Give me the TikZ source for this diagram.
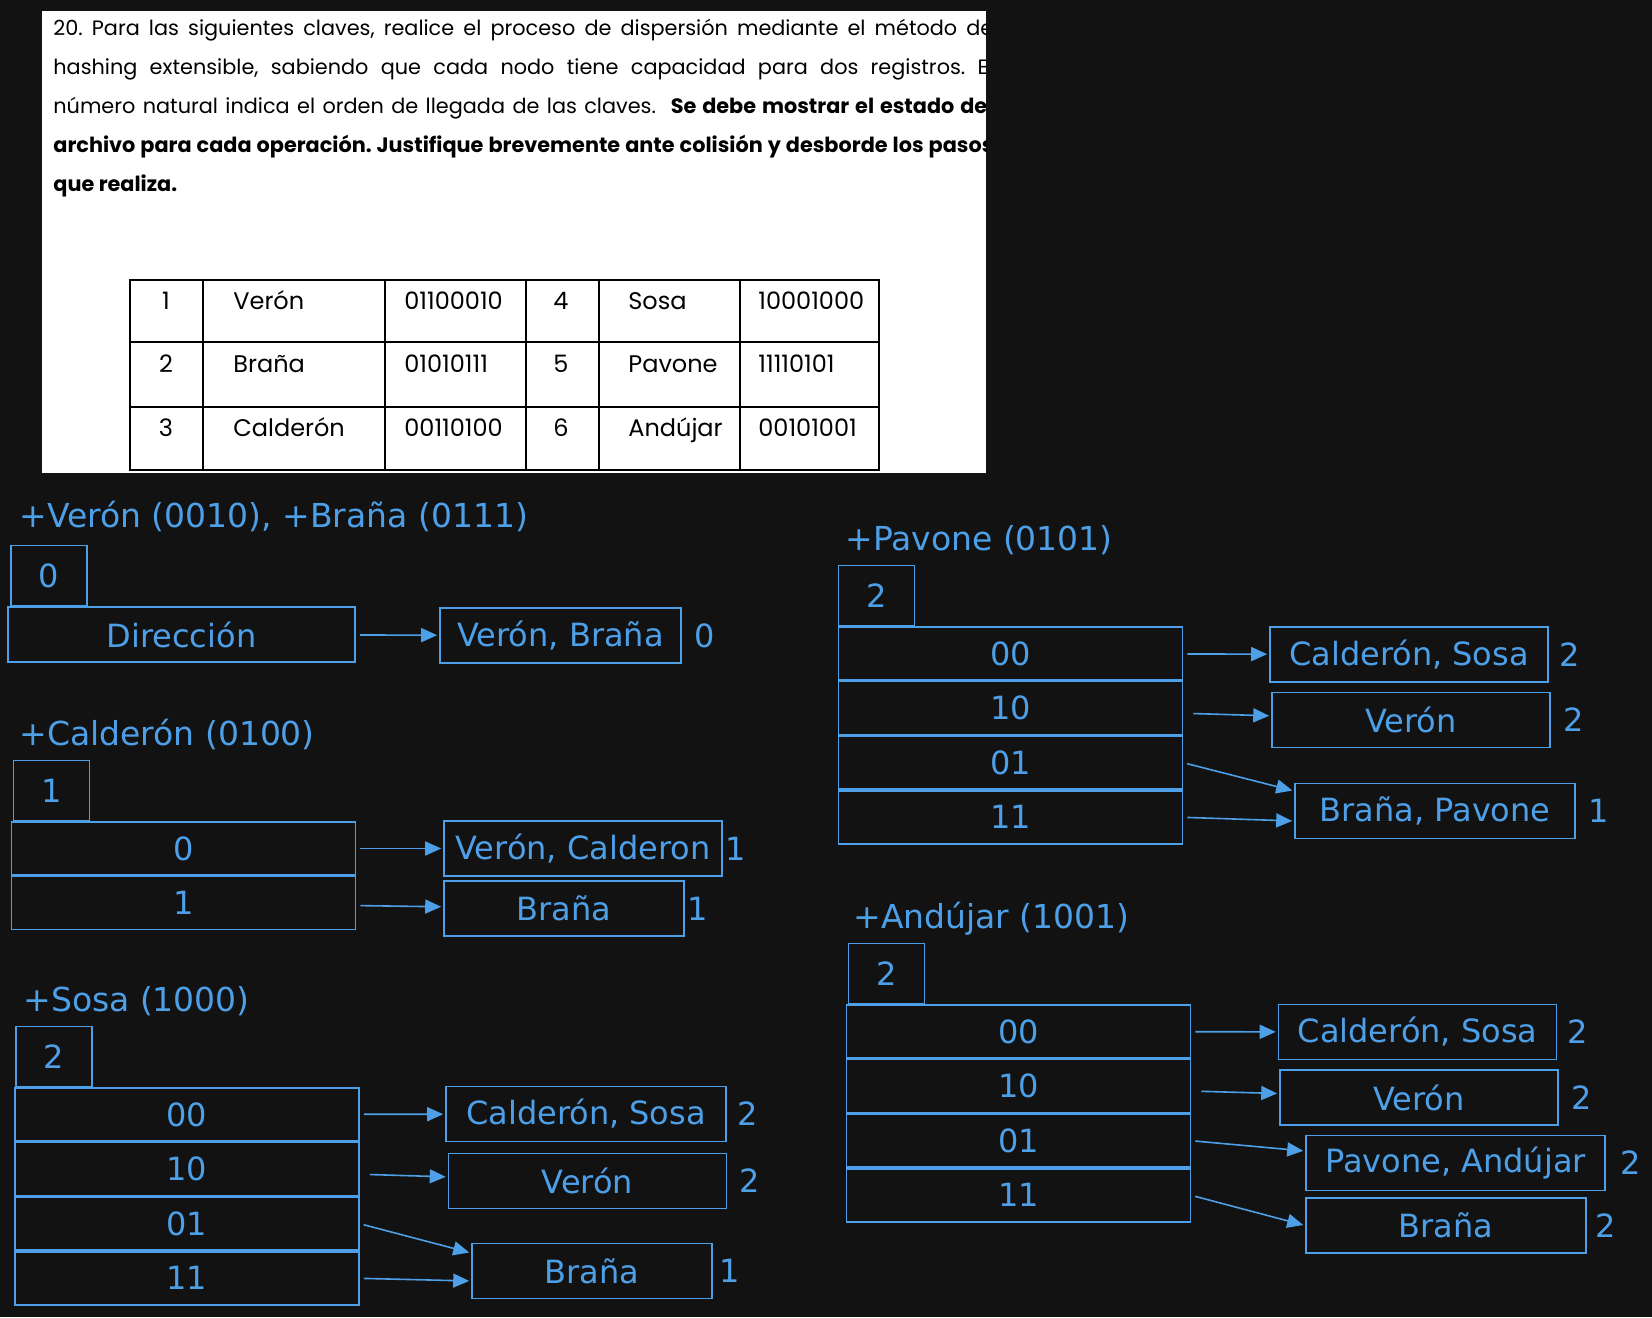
\documentclass[tikz,border=0pt]{standalone}
\usepackage{fontspec}
\setmainfont{Poppins}
\newfontfamily\hand{DejaVu Sans}
\usetikzlibrary{arrows.meta,positioning,calc}
\definecolor{sk}{RGB}{77,160,232}
\definecolor{bg}{RGB}{18,18,18}
\frenchspacing

\begin{document}
\begin{tikzpicture}[
    x=0.5pt, y=-0.5pt,
    cell/.style={draw=sk, line width=0.8pt, inner sep=0pt, text=sk,
      font=\hand\fontsize{16}{19}\selectfont},
    depthbox/.style={cell, minimum width=38pt, minimum height=30pt},
    dirrow/.style={cell, minimum width=172pt, minimum height=26.5pt},
    bucket/.style={cell, minimum width=#1, minimum height=27.5pt},
    bucket/.default=139pt,
    ttl/.style={anchor=west, inner sep=0pt, text=sk,
      font=\hand\fontsize{16.5}{19}\selectfont},
    lbl/.style={inner sep=1pt, text=sk, font=\hand\fontsize{16}{19}\selectfont},
    arr/.style={-{Triangle[length=8pt,width=7pt]}, draw=sk, line width=0.8pt,
      shorten <=2pt, shorten >=1pt},
    hdr/.style={anchor=base west, inner sep=0pt, font=\fontsize{10.4}{12}\selectfont},
    tcell/.style={inner sep=0pt, font=\fontsize{12}{14}\selectfont},
    tline/.style={line width=1.2pt}
  ]
  \useasboundingbox (0,0) rectangle (1652,1317);
  \fill[bg] (0,0) rectangle (1652,1317);

  % enunciado
  \fill[white] (42,11) rectangle (986,473);
  \begin{scope}
    \clip (42,11) rectangle (986,473);
    \node[hdr] (l1) at (53,35) {\makebox[470pt][s]{20. Para las siguientes claves, realice el proceso de dispersión mediante el método de}};
    \node[hdr] (l2) at (53,74) {\makebox[470pt][s]{hashing extensible, sabiendo que cada nodo tiene capacidad para dos registros. El}};
    \node[hdr] (l3) at (53,113) {\makebox[470pt][s]{número natural indica el orden de llegada de las claves.\ \ \textbf{Se debe mostrar el estado del}}};
    \node[hdr] (l4) at (53,152) {\makebox[470pt][s]{\textbf{archivo para cada operación. Justifique brevemente ante colisión y desborde los pasos}}};
    \node[hdr] (l5) at (53,191) {\textbf{que realiza.}};
  \end{scope}

  % tabla de claves
  \draw[tline] (130,280) rectangle (879,470);
  \foreach \x in {203,385,526,599,740}
    \draw[tline] (\x,280) -- (\x,470);
  \foreach \y in {342,407}
    \draw[tline] (130,\y) -- (879,\y);
  \foreach \n/\a/\b/\m/\c/\d [count=\i from 0] in {1/Verón/01100010/4/Sosa/10001000,
      2/Braña/01010111/5/Pavone/11110101, 3/Calderón/00110100/6/Andújar/00101001} {
    \node[tcell, anchor=base] (n\i) at (166,{309+63.5*\i}) {\n};
    \node[tcell, anchor=base west] (a\i) at (233,{309+63.5*\i}) {\a};
    \node[tcell, anchor=base west] (b\i) at (404,{309+63.5*\i}) {\b};
    \node[tcell, anchor=base] (m\i) at (561,{309+63.5*\i}) {\m};
    \node[tcell, anchor=base west] (c\i) at (628,{309+63.5*\i}) {\c};
    \node[tcell, anchor=base west] (d\i) at (758,{309+63.5*\i}) {\d};
  }

  % +Verón, +Braña
  \node[ttl] (t1) at (19,516) {+Verón (0010), +Braña (0111)};
  \node[dirrow, minimum width=173.5pt, minimum height=27.5pt] (dir1) at (181.5,634.5) {Dirección};
  \node[depthbox, anchor=south west] (g1) at ([xshift=1.5pt]dir1.north west) {0};
  \node[bucket=120.5pt] (b1) at (560.5,635.5) {Verón, Braña};
  \node[lbl, right=5pt of b1] (pb1) {0};
  \draw[arr] (dir1) -- (b1);

  % +Calderón
  \node[ttl] (t2) at (19,734) {+Calderón (0100)};
  \node[dirrow] (c0) at (183.5,848.5) {0};
  \node[dirrow, below=0pt of c0] (c1) {1};
  \node[depthbox, anchor=south west] (g2) at ([xshift=1pt]c0.north west) {1};
  \node[bucket] (cVC) at (583,848.5) {Verón, Calderon};
  \node[bucket=120pt] (cB) at (564,908.5) {Braña};
  \node[lbl, right=0pt of cVC] (pcVC) {1};
  \node[lbl, right=0pt of cB] (pcB) {1};
  \draw[arr] (c0) -- (cVC);
  \draw[arr] (c1) -- (cB);

  % +Sosa
  \node[ttl] (t3) at (23,1001) {+Sosa (1000)};
  \node[dirrow] (s00) at (187,1114.5) {00};
  \node[dirrow, below=0pt of s00] (s10) {10};
  \node[dirrow, below=0pt of s10] (s01) {01};
  \node[dirrow, below=0pt of s01] (s11) {11};
  \node[depthbox, anchor=south west] (g3) at ([xshift=0.5pt]s00.north west) {2};
  \node[bucket=140pt] (sCS) at (586,1114) {Calderón, Sosa};
  \node[bucket] (sV) at (587.5,1181) {Verón};
  \node[bucket=120pt] (sB) at (592,1271) {Braña};
  \node[lbl, right=4pt of sCS] (psCS) {2};
  \node[lbl, right=5pt of sV] (psV) {2};
  \node[lbl, right=2pt of sB] (psB) {1};
  \draw[arr] (s00) -- (sCS);
  \draw[arr, shorten <=5pt] (s10) -- (sV);
  \draw[arr] (s01.east) -- ([yshift=9pt]sB.west);
  \draw[arr] (s11.east) -- ([yshift=-5pt]sB.west);

  % +Pavone
  \node[ttl] (t4) at (845,540) {+Pavone (0101)};
  \node[dirrow] (p00) at (1010.5,653.5) {00};
  \node[dirrow, below=0pt of p00] (p10) {10};
  \node[dirrow, below=0pt of p10] (p01) {01};
  \node[dirrow, below=0pt of p01] (p11) {11};
  \node[depthbox, anchor=south west] (g4) at (p00.north west) {2};
  \node[bucket] (pCS) at (1409,654.5) {Calderón, Sosa};
  \node[bucket] (pV) at (1411,720) {Verón};
  \node[bucket=140pt] (pBP) at (1435,811) {Braña, Pavone};
  \node[lbl, right=4pt of pCS] (ppCS) {2};
  \node[lbl, right=5pt of pV] (ppV) {2};
  \node[lbl, right=5pt of pBP] (ppBP) {1};
  \draw[arr] (p00) -- (pCS);
  \draw[arr, shorten <=5pt] (p10) -- (pV);
  \draw[arr] (p01.east) -- ([yshift=10pt]pBP.west);
  \draw[arr] (p11.east) -- ([yshift=-5pt]pBP.west);

  % +Andújar
  \node[ttl] (t5) at (853,919) {+Andújar (1001)};
  \node[dirrow] (a00) at (1018.5,1031.5) {00};
  \node[dirrow, below=0pt of a00] (a10) {10};
  \node[dirrow, below=0pt of a10] (a01) {01};
  \node[dirrow, below=0pt of a01] (a11) {11};
  \node[depthbox, anchor=south west] (g5) at ([xshift=1pt]a00.north west) {2};
  \node[bucket] (aCS) at (1417.5,1032) {Calderón, Sosa};
  \node[bucket] (aV) at (1419,1097.5) {Verón};
  \node[bucket=149.5pt] (aPA) at (1455.5,1163) {Pavone, Andújar};
  \node[bucket=140pt] (aB) at (1446,1225.5) {Braña};
  \node[lbl, right=4pt of aCS] (paCS) {2};
  \node[lbl, right=5pt of aV] (paV) {2};
  \node[lbl, right=6pt of aPA] (paPA) {2};
  \node[lbl, right=3pt of aB] (paB) {2};
  \draw[arr] (a00) -- (aCS);
  \draw[arr, shorten <=5pt] (a10) -- (aV);
  \draw[arr] (a01.east) -- ([yshift=6pt]aPA.west);
  \draw[arr] (a11.east) -- (aB.west);
\end{tikzpicture}
\end{document}
